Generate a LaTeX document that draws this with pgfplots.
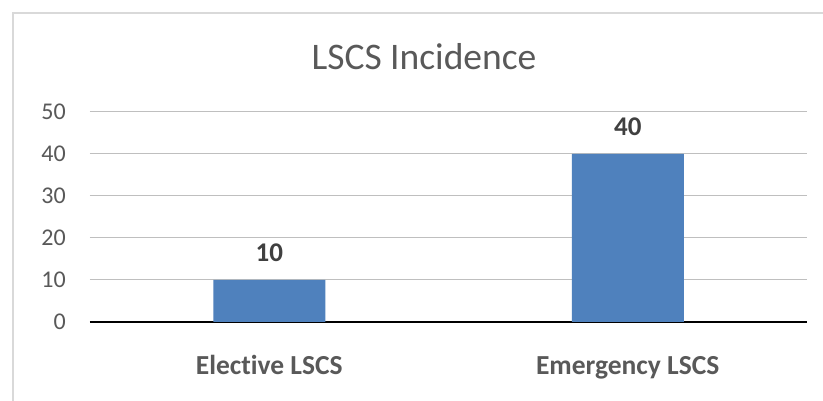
\documentclass[border=0pt]{standalone}
\usepackage{pgfplots}
\pgfplotsset{compat=1.18}
\usepackage{fontspec}
\setmainfont{Carlito}[Ligatures=NoCommon]
\definecolor{barblue}{HTML}{4F81BD}
\definecolor{txtgray}{HTML}{595959}
\definecolor{lblgray}{HTML}{404040}
\definecolor{gridgray}{HTML}{BFBFBF}
\definecolor{bordergray}{HTML}{D9D9D9}
\begin{document}
\begin{tikzpicture}[x=1pt,y=1pt]
\path[use as bounding box] (0,0) rectangle (823,401);
\fill[white] (0,0) rectangle (823,401);
\draw[bordergray, line width=2pt] (13,0) -- (13,388) -- (823,388);
\begin{axis}[
  at={(90pt,79pt)}, anchor=south west,
  scale only axis, width=717pt, height=210pt,
  xmin=-0.5, xmax=1.5, ymin=0, ymax=50,
  ytick={0,10,20,30,40,50},
  xtick={0,1}, xticklabels={Elective LSCS, Emergency LSCS},
  major tick length=0pt,
  axis line style={draw=none},
  axis x line*=bottom,
  x axis line style={draw=black, line width=1.5pt},
  ymajorgrids, grid style={gridgray, line width=1pt},
  /pgf/number format/assume math mode=true,
  yticklabel style={font=\fontsize{24}{28}\selectfont, text=txtgray, anchor=east, inner sep=0pt, xshift=-24pt},
  xticklabel style={font=\fontsize{27.5}{32}\selectfont\bfseries, text=txtgray, anchor=base, inner sep=0pt, yshift=-53pt},
  nodes near coords,
  every node near coord/.append style={font=\fontsize{27}{32}\selectfont\bfseries, text=lblgray, anchor=base, inner sep=0pt, yshift=18pt},
  clip=false,
]
\addplot[ybar, bar width=112pt, fill=barblue, draw=none] coordinates {(0,10) (1,40)};
\end{axis}
\node[anchor=base, font=\fontsize{37.5}{44}\selectfont, text=txtgray, inner sep=0pt] at (424,331) {LSCS Incidence};
\end{tikzpicture}
\end{document}
